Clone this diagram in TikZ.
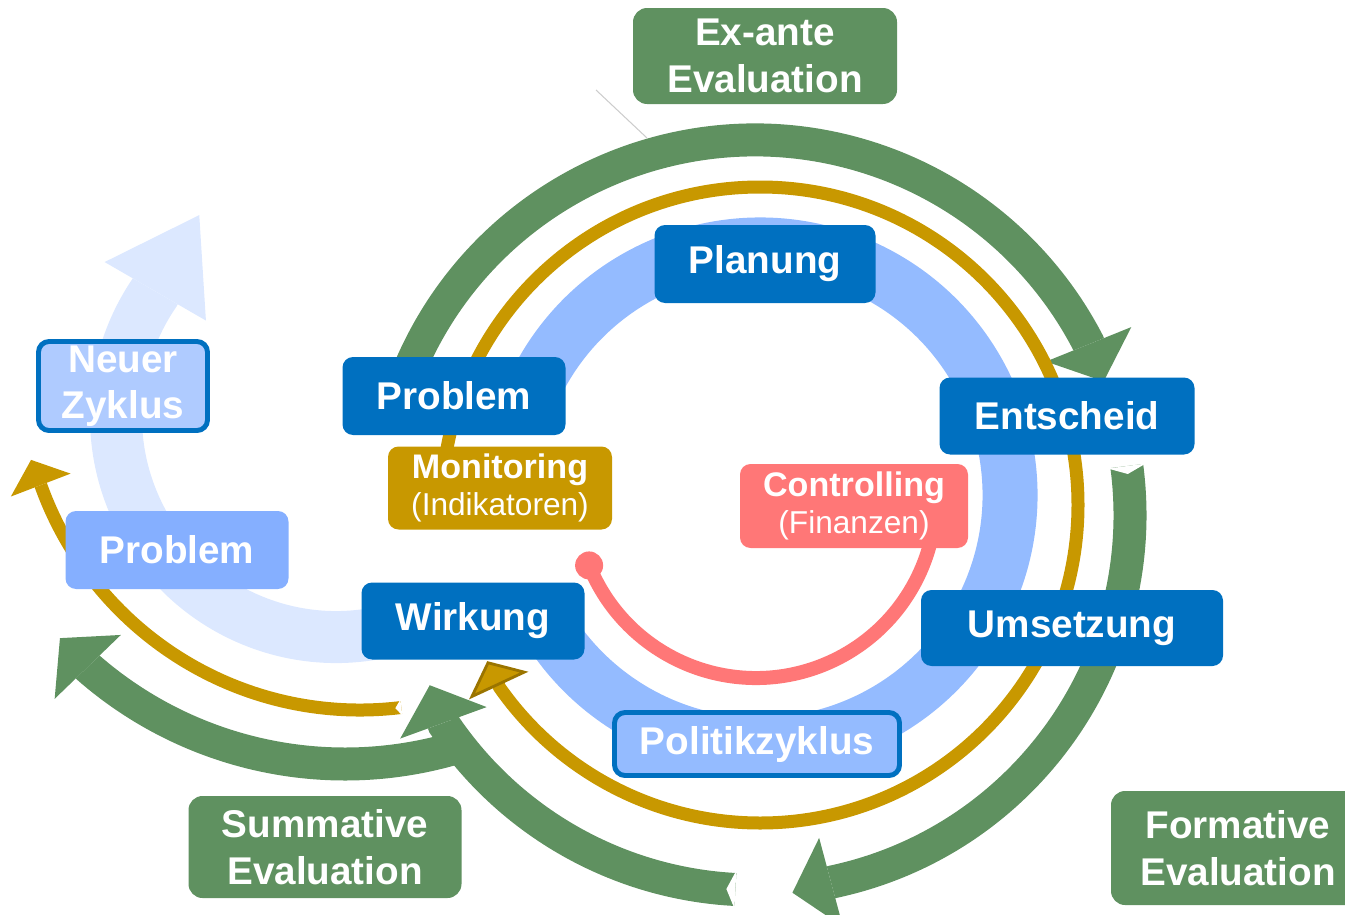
\documentclass[tikz,border=0pt]{standalone}
\usepackage{fontspec}
\setmainfont{Liberation Sans}
\usetikzlibrary{arrows.meta,calc}
\definecolor{stageblue}{HTML}{0070C0}
\definecolor{ringblue}{HTML}{94BBFF}
\definecolor{paleblue}{HTML}{DCE8FF}
\definecolor{newfill}{HTML}{AFCBFF}
\definecolor{oldfill}{HTML}{85AFFF}
\definecolor{evalgreen}{HTML}{5F9160}
\definecolor{mongold}{HTML}{C89800}
\definecolor{mondark}{HTML}{9A7400}
\definecolor{ctrlred}{HTML}{FF7777}

\begin{document}
\begin{tikzpicture}[
    stage/.style={rounded corners=3pt, fill=stageblue, text=white, inner sep=0pt, minimum height=0.78cm, font=\fontsize{11}{13.2}\selectfont\bfseries, align=center},
    evalbox/.style={stage, fill=evalgreen, rounded corners=4pt},
    subbox/.style={stage, font=\fontsize{9.7}{10.4}\selectfont\bfseries},
    ringarc/.style={ringblue, line width=0.55cm},
    greenarr/.style={evalgreen, line width=0.33cm, -{Triangle[length=0.4cm, width=0.92cm, line width=0pt]}},
    goldarr/.style={mongold, line width=0.13cm, -{Triangle[length=0.27cm, width=0.64cm, line width=0pt]}},
    notch/.style={fill=white},
]
\useasboundingbox (0,0) rectangle (13.45,9.14);
\clip (0,0) rectangle (13.45,9.14);

% centres of the arcs
\coordinate (palec) at (3.36,4.97);
\coordinate (greenc) at (7.55,3.99);
\coordinate (greenl) at (3.45,5.40);
\coordinate (goldc) at (7.60,4.09);
\coordinate (goldl) at (3.60,5.43);
\coordinate (ringc) at (7.60,4.19);
\coordinate (ctrlc) at (7.56,4.16);

% Neuer Zyklus arrow
\draw[paleblue, line width=0.52cm, -{Triangle[length=0.88cm, width=1.17cm, line width=0pt]}] ($(palec)+(-70:2.2)$) arc[start angle=-70, end angle=-214.3, radius=2.2] -- ++(60:0.9);

% Evaluation arrows
\draw[greenarr] ($(greenl)+(-74:3.9)$) arc[start angle=-74, end angle=-131, radius=3.9] -- ++(134:0.42);
\draw[greenarr] ($(greenc)+(-93:3.75)$) arc[start angle=-93, end angle=-146, radius=3.75] -- ++(110:0.42);
\draw[greenarr] ($(greenc)+(7.5:3.75)$) arc[start angle=7.5, end angle=-78, radius=3.75] -- ++(195:0.42);
\draw[greenarr] ($(greenc)+(160:3.75)$) arc[start angle=160, end angle=27.4, radius=3.75] -- ++(-68:0.42);
% notched tails
\fill[notch] ($(greenc)+(-93:3.94)$) -- ($(greenc)+(-93:3.56)$) -- ($(greenc)+(-93:3.75)+(-183:0.09)$) -- cycle;
\fill[notch] ($(greenc)+(7.5:3.94)$) -- ($(greenc)+(7.5:3.56)$) -- ($(greenc)+(7.5:3.75)+(-82.5:0.08)$) -- cycle;

% Monitoring arrows
\draw[goldarr] ($(goldl)+(-83:3.39)$) arc[start angle=-83, end angle=-160, radius=3.39] -- ++(111:0.29);
\fill[notch] ($(goldl)+(-83:3.47)$) -- ($(goldl)+(-83:3.31)$) -- ($(goldl)+(-83:3.39)+(-173:0.06)$) -- cycle;
\draw[mongold, line width=0.13cm, -{Triangle[length=0.27cm, width=0.65cm, fill=mongold, color=mondark, line width=0.8pt]}] ($(goldc)+(180:3.18)$) arc[start angle=180, end angle=-145, radius=3.18] -- ++(115:0.29);

% Politikzyklus ring
\draw[ringarc] ($(ringc)+(155:2.5)$) arc[start angle=155, end angle=-155, radius=2.5];

% Controlling
\draw[ctrlred, line width=0.14cm] ($(ctrlc)+(-158:1.8)$) coordinate (ctrldot) arc[start angle=-158, end angle=-12, radius=1.8];
\fill[ctrlred] (ctrldot) circle[radius=0.14];

% faint leader
\coordinate (leadA) at (5.96,8.24);
\coordinate (leadB) at (6.47,7.76);
\draw[black!20, line width=0.3pt] (leadA) -- (leadB);

% Evaluation labels
\node[evalbox, minimum width=2.64cm, minimum height=0.96cm] (exante) at (7.65,8.58) {Ex-ante\\Evaluation};
\node[evalbox, minimum width=2.73cm, minimum height=1.02cm] (summ) at (3.25,0.67) {Summative\\Evaluation};
\node[evalbox, minimum width=2.54cm, minimum height=1.14cm] (form) at (12.38,0.66) {Formative\\Evaluation};

% Stages
\node[stage, minimum width=2.21cm] (planung) at (7.65,6.50) {Planung};
\node[stage, minimum width=2.23cm] (problem) at (4.54,5.18) {Problem};
\node[stage, minimum width=2.55cm, minimum height=0.77cm] (entscheid) at (10.67,4.98) {Entscheid};
\node[stage, minimum width=3.02cm, minimum height=0.76cm] (umsetzung) at (10.72,2.86) {Umsetzung};
\node[stage, minimum width=2.23cm, minimum height=0.77cm] (wirkung) at (4.73,2.93) {Wirkung};
\node[stage, fill=ringblue, draw=stageblue, line width=1.4pt, minimum width=2.85cm, minimum height=0.63cm] (politik) at (7.57,1.70) {Politikzyklus};

% Monitoring / Controlling
\node[subbox, fill=mongold, minimum width=2.24cm, minimum height=0.83cm] (monitor) at (5.00,4.26) {Monitoring\\{\mdseries\fontsize{9}{10.4}\selectfont (Indikatoren)}};
\node[subbox, fill=ctrlred, minimum width=2.28cm, minimum height=0.84cm] (control) at (8.54,4.08) {Controlling\\{\mdseries\fontsize{9}{10.4}\selectfont (Finanzen)}};

% Neuer Zyklus
\node[stage, fill=newfill, draw=stageblue, line width=1.4pt, minimum width=1.69cm, minimum height=0.89cm] (neuer) at (1.23,5.28) {Neuer\\Zyklus};
\node[stage, fill=oldfill, minimum width=2.23cm] (altprob) at (1.77,3.64) {Problem};
\end{tikzpicture}
\end{document}
